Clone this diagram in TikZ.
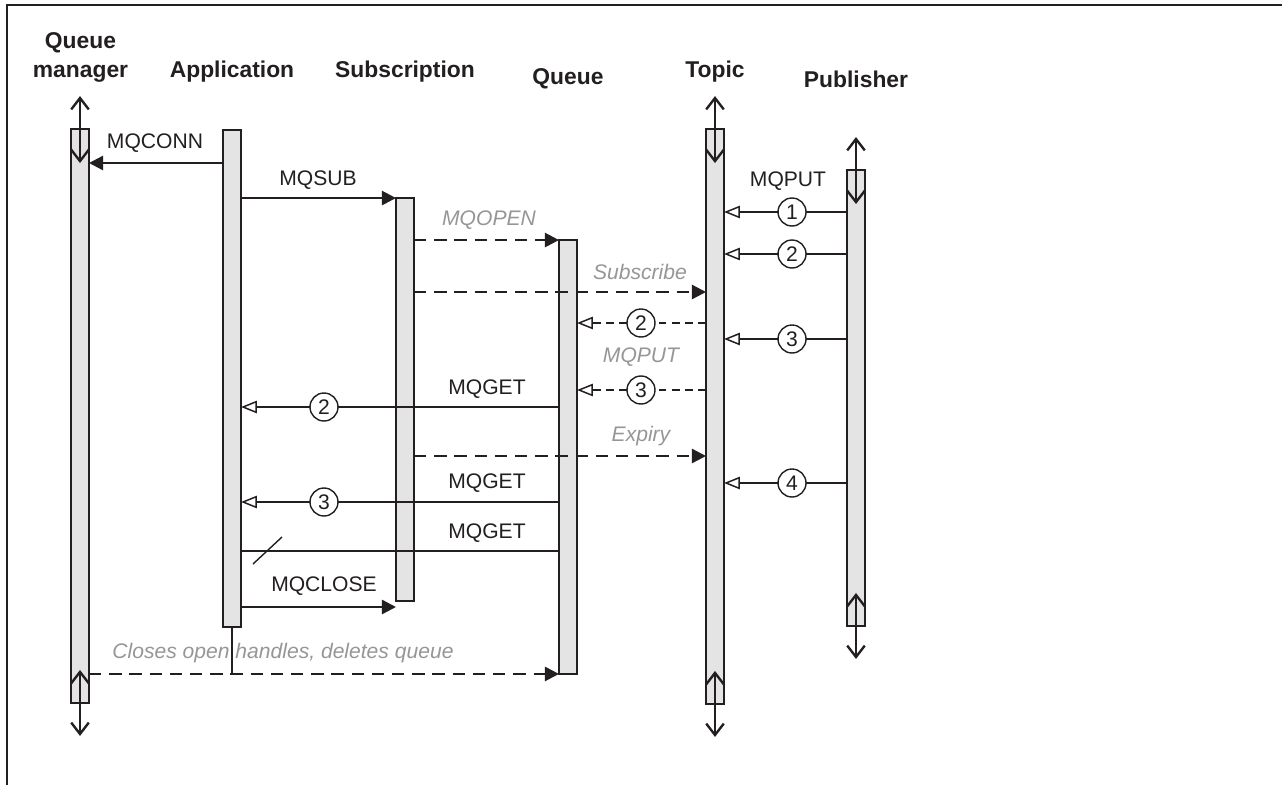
\documentclass[tikz,border=0pt]{standalone}
\usepackage{fontspec}
\setmainfont{Liberation Sans}
\definecolor{ink}{RGB}{35,31,32}
\definecolor{barfill}{RGB}{228,228,228}
\definecolor{faint}{RGB}{150,150,150}
\usetikzlibrary{arrows.meta,calc}
\tikzset{
  bar/.style={draw=ink, line width=1pt, fill=barfill, minimum width=0.36cm,
              inner sep=0pt, outer sep=0pt},
  hdr/.style={font=\fontsize{13}{16.5}\selectfont\bfseries, text=ink, align=center},
  lbl/.style={font=\fontsize{12}{14}\selectfont, text=ink, inner sep=1pt},
  note/.style={font=\fontsize{12}{14}\selectfont\itshape, text=faint, inner sep=1pt},
  num/.style={circle, draw=ink, solid, line width=0.8pt, fill=white, inner sep=0pt,
              minimum size=0.56cm, font=\fontsize{12}{14}\selectfont, text=ink},
  life/.style={{Straight Barb[length=6.5pt,width=10pt]}-{Straight Barb[length=6.5pt,width=10pt]},
               ink, line width=1.35pt},
  call/.style={-{Triangle[length=8pt,width=8pt]}, ink, line width=1.35pt},
  internal/.style={call, dash pattern=on 7pt off 4.5pt},
  msg/.style={-{Triangle[fill=white,length=9pt,width=7pt]}, ink, line width=0.85pt},
  fwd/.style={msg, dash pattern=on 4.5pt off 3pt},
}

\begin{document}
\begin{tikzpicture}[x=0.02cm,y=-0.02cm]
    \useasboundingbox (0,0) rectangle (1282,785);
    \draw[ink,line width=1pt] (1282,5) -- (7,5) -- (7,785);
    % column heads
    \node[hdr] (hqmgr)  at (80.5,57.5) {Queue\\manager};
    \node[hdr] (happ)   at (232,72)  {Application};
    \node[hdr] (hsub)   at (405,72)  {Subscription};
    \node[hdr] (hqueue) at (568,79)  {Queue};
    \node[hdr] (htopic) at (715,72)  {Topic};
    \node[hdr] (hpub)   at (856,79)  {Publisher};
    % life lines
    \node[bar,minimum height=11.48cm] (qmgr)  at (80,416)    {};
    \node[bar,minimum height=9.94cm]  (app)   at (232,378.5) {};
    \node[bar,minimum height=8.06cm]  (sub)   at (405,399.5) {};
    \node[bar,minimum height=8.68cm]  (queue) at (568,457)   {};
    \node[bar,minimum height=11.5cm]  (topic) at (715,416.5) {};
    \node[bar,minimum height=9.12cm]  (pub)   at (856,398)   {};
    \foreach \b in {qmgr,topic,pub}{
      \draw[life] ($(\b.north)+(0,-33)$) -- ($(\b.north)+(0,34)$);
      \draw[life] ($(\b.south)+(0,-33)$) -- ($(\b.south)+(0,33)$);
    }
    % message rows
    \coordinate (yconn) at (0,163);
    \coordinate (yp1)   at (0,212);
    \coordinate (yp2)   at (0,254);
    \coordinate (yscr)  at (0,292);
    \coordinate (yq2)   at (0,323);
    \coordinate (yp3)   at (0,339);
    \coordinate (yq3)   at (0,390);
    \coordinate (yg2)   at (0,407);
    \coordinate (yexp)  at (0,456);
    \coordinate (yp4)   at (0,483);
    \coordinate (yg3)   at (0,502);
    \coordinate (yg4)   at (0,551);
    \coordinate (yclose) at (0,607);
    % application side
    \draw[call] (app.west |- yconn) -- (qmgr.east |- yconn);
    \node[lbl] (tconn) at (155,143) {MQCONN};
    \draw[call] (app.east |- sub.north) -- (sub.north west);
    \node[lbl] (tsub) at (318,180) {MQSUB};
    \draw[internal] (sub.east |- queue.north) -- (queue.north west);
    \node[note] (topen) at (489,220) {MQOPEN};
    \draw[internal] (sub.east |- yscr) -- (topic.west |- yscr);
    \node[note] (tscr) at (640,272) {Subscribe};
    % publisher
    \node[lbl] (tput) at (788,181) {MQPUT};
    \draw[msg] (pub.west |- yp1) -- node[num,pos=0.447] (c1) {1} (topic.east |- yp1);
    \draw[msg] (pub.west |- yp2) -- node[num,pos=0.447] (c2) {2} (topic.east |- yp2);
    \draw[msg] (pub.west |- yp3) -- node[num,pos=0.447] (c3) {3} (topic.east |- yp3);
    \draw[msg] (pub.west |- yp4) -- node[num,pos=0.447] (c4) {4} (topic.east |- yp4);
    % topic to queue
    \draw[fwd] (topic.west |- yq2) -- node[num,pos=0.504] (d2) {2} (queue.east |- yq2);
    \node[note] (tqput) at (641,357) {MQPUT};
    \draw[fwd] (topic.west |- yq3) -- node[num,pos=0.504] (d3) {3} (queue.east |- yq3);
    % gets
    \draw[msg] (queue.west |- yg2) -- node[num,pos=0.739] (g2) {2} (app.east |- yg2);
    \node[lbl] (tget2) at (487,389) {MQGET};
    \draw[internal] (sub.east |- yexp) -- (topic.west |- yexp);
    \node[note] (texp) at (641,436) {Expiry};
    \draw[msg] (queue.west |- yg3) -- node[num,pos=0.739] (g3) {3} (app.east |- yg3);
    \node[lbl] (tget3) at (487,483) {MQGET};
    \draw[ink,line width=1.1pt] (queue.west |- yg4) -- (app.east |- yg4);
    \draw[ink,line width=0.8pt] (253,564) -- (282,537);
    \node[lbl] (tget4) at (487,533) {MQGET};
    \draw[call] (app.east |- yclose) -- (sub.west |- yclose);
    \node[lbl] (tclose) at (324,586) {MQCLOSE};
    % end
    \draw[ink,line width=0.85pt] (app.south) -- (app.south |- queue.south);
    \draw[internal] (qmgr.east |- queue.south) -- (queue.south west);
    \node[note] (tend) at (283,653) {Closes open handles, deletes queue};
\end{tikzpicture}
\end{document}
